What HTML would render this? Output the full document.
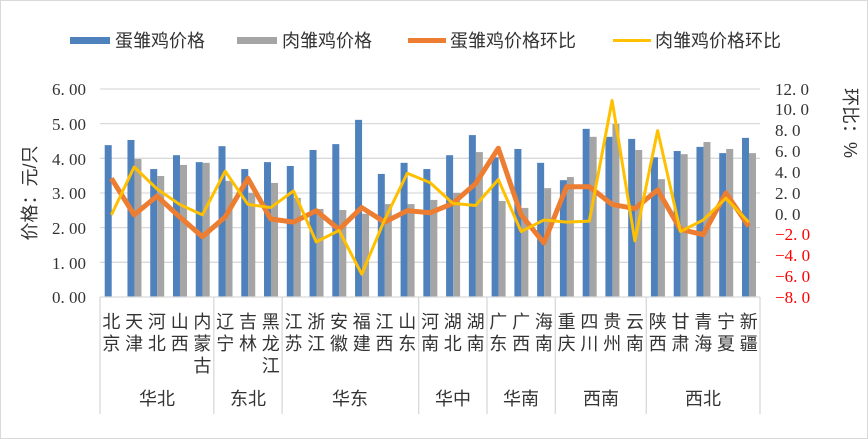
<!DOCTYPE html>
<html><head><meta charset="utf-8"><style>
html,body{margin:0;padding:0;background:#fff;}
svg{display:block;font-family:"Liberation Serif","Noto Serif CJK SC",serif;}
.p{font-size:18px;fill:#333;text-anchor:middle;font-family:"Liberation Sans","Noto Sans CJK SC",sans-serif;}
.g{font-size:18px;fill:#333;text-anchor:middle;font-family:"Liberation Sans","Noto Sans CJK SC",sans-serif;}
.l{font-size:18px;fill:#333;font-family:"Liberation Sans","Noto Sans CJK SC",sans-serif;}
.yl{font-size:17px;fill:#333;text-anchor:end;}
.yr{font-size:17px;fill:#333;}
.neg{fill:#ff0000;}
</style></head><body>
<svg id="s" width="868" height="439" viewBox="0 0 868 439" xmlns="http://www.w3.org/2000/svg">
<rect x="0.5" y="0.5" width="867" height="438" fill="#fff" stroke="#d9d9d9"/>
<g id="grid" stroke="#d9d9d9" stroke-width="1.3"></g>
<g id="bars"></g>
<g id="lines" fill="none" stroke-linejoin="round"></g>
<g stroke="#d9d9d9" stroke-width="1.3">
<line x1="100" y1="297" x2="760" y2="297"/>
<line x1="100" y1="297" x2="100" y2="414"/>
<line x1="213.8" y1="297" x2="213.8" y2="414"/>
<line x1="282.1" y1="297" x2="282.1" y2="414"/>
<line x1="418.7" y1="297" x2="418.7" y2="414"/>
<line x1="487" y1="297" x2="487" y2="414"/>
<line x1="555.3" y1="297" x2="555.3" y2="414"/>
<line x1="646.3" y1="297" x2="646.3" y2="414"/>
<line x1="760" y1="297" x2="760" y2="414"/>
</g>
<text class="yl" x="86" y="95">6. 00</text>
<text class="yl" x="86" y="130">5. 00</text>
<text class="yl" x="86" y="165">4. 00</text>
<text class="yl" x="86" y="199">3. 00</text>
<text class="yl" x="86" y="234">2. 00</text>
<text class="yl" x="86" y="269">1. 00</text>
<text class="yl" x="86" y="303">0. 00</text>
<text class="yr" x="775" y="95">12. 0</text>
<text class="yr" x="775" y="115">10. 0</text>
<text class="yr" x="775" y="136">8. 0</text>
<text class="yr" x="775" y="157">6. 0</text>
<text class="yr" x="775" y="178">4. 0</text>
<text class="yr" x="775" y="199">2. 0</text>
<text class="yr" x="775" y="220">0. 0</text>
<text class="yr neg" x="775" y="240">−2. 0</text>
<text class="yr neg" x="775" y="261">−4. 0</text>
<text class="yr neg" x="775" y="282">−6. 0</text>
<text class="yr neg" x="775" y="303">−8. 0</text>
<text class="l" transform="translate(36,193) rotate(-90)" text-anchor="middle">价格：元/只</text>
<text class="l" transform="translate(844,123) rotate(90)" text-anchor="middle">环比：%</text>
<rect x="70" y="37" width="40" height="7" fill="#4f81bd"/>
<text class="l" x="115" y="47">蛋雏鸡价格</text>
<rect x="237" y="37" width="40" height="7" fill="#a5a5a5"/>
<text class="l" x="282" y="47">肉雏鸡价格</text>
<line x1="408" y1="40.5" x2="446" y2="40.5" stroke="#ed7d31" stroke-width="5"/>
<text class="l" x="450" y="47">蛋雏鸡价格环比</text>
<line x1="613" y1="40.5" x2="651" y2="40.5" stroke="#ffc000" stroke-width="3"/>
<text class="l" x="655" y="47">肉雏鸡价格环比</text>
<g class="p">
<text x="111.4" y="328">北<tspan x="111.4" dy="22">京</tspan></text>
<text x="134.1" y="328">天<tspan x="134.1" dy="22">津</tspan></text>
<text x="156.9" y="328">河<tspan x="156.9" dy="22">北</tspan></text>
<text x="179.7" y="328">山<tspan x="179.7" dy="22">西</tspan></text>
<text x="202.4" y="328">内<tspan x="202.4" dy="22">蒙</tspan><tspan x="202.4" dy="22">古</tspan></text>
<text x="225.2" y="328">辽<tspan x="225.2" dy="22">宁</tspan></text>
<text x="248" y="328">吉<tspan x="248" dy="22">林</tspan></text>
<text x="270.7" y="328">黑<tspan x="270.7" dy="22">龙</tspan><tspan x="270.7" dy="22">江</tspan></text>
<text x="293.5" y="328">江<tspan x="293.5" dy="22">苏</tspan></text>
<text x="316.2" y="328">浙<tspan x="316.2" dy="22">江</tspan></text>
<text x="339" y="328">安<tspan x="339" dy="22">徽</tspan></text>
<text x="361.8" y="328">福<tspan x="361.8" dy="22">建</tspan></text>
<text x="384.5" y="328">江<tspan x="384.5" dy="22">西</tspan></text>
<text x="407.3" y="328">山<tspan x="407.3" dy="22">东</tspan></text>
<text x="430.1" y="328">河<tspan x="430.1" dy="22">南</tspan></text>
<text x="452.8" y="328">湖<tspan x="452.8" dy="22">北</tspan></text>
<text x="475.6" y="328">湖<tspan x="475.6" dy="22">南</tspan></text>
<text x="498.3" y="328">广<tspan x="498.3" dy="22">东</tspan></text>
<text x="521.1" y="328">广<tspan x="521.1" dy="22">西</tspan></text>
<text x="543.9" y="328">海<tspan x="543.9" dy="22">南</tspan></text>
<text x="566.6" y="328">重<tspan x="566.6" dy="22">庆</tspan></text>
<text x="589.4" y="328">四<tspan x="589.4" dy="22">川</tspan></text>
<text x="612.2" y="328">贵<tspan x="612.2" dy="22">州</tspan></text>
<text x="634.9" y="328">云<tspan x="634.9" dy="22">南</tspan></text>
<text x="657.7" y="328">陕<tspan x="657.7" dy="22">西</tspan></text>
<text x="680.5" y="328">甘<tspan x="680.5" dy="22">肃</tspan></text>
<text x="703.2" y="328">青<tspan x="703.2" dy="22">海</tspan></text>
<text x="726" y="328">宁<tspan x="726" dy="22">夏</tspan></text>
<text x="748.8" y="328">新<tspan x="748.8" dy="22">疆</tspan></text>
</g>
<g class="g">
<text x="157" y="405">华北</text>
<text x="248" y="405">东北</text>
<text x="350" y="405">华东</text>
<text x="453" y="405">华中</text>
<text x="521" y="405">华南</text>
<text x="601" y="405">西南</text>
<text x="703" y="405">西北</text>
</g>
</svg>
<script>
var NS="http://www.w3.org/2000/svg";
function el(p,t,a){var e=document.createElementNS(NS,t);for(var k in a)e.setAttribute(k,a[k]);p.appendChild(e);return e;}
var grid=document.getElementById('grid');
for(var i=1;i<=6;i++){var y=297-34.67*i;el(grid,'line',{x1:100,x2:760,y1:y,y2:y});}
var blue=[4.38,4.53,3.69,4.09,3.89,4.35,3.69,3.89,3.78,4.24,4.41,5.11,3.55,3.87,3.69,4.09,4.67,4.03,4.27,3.87,3.37,4.85,4.62,4.56,4.03,4.21,4.33,4.15,4.59];
var gray=[0,3.98,3.49,3.81,3.87,3.35,3.0,3.29,2.86,2.54,2.51,2.4,2.68,2.68,2.8,3.0,4.18,2.77,2.57,3.14,3.46,4.62,4.99,4.24,3.40,4.12,4.47,4.27,4.15];
var org=[3.4,-0.1,1.7,-0.3,-2.2,-0.3,3.4,-0.5,-0.8,0.3,-1.5,0.6,-0.8,0.3,0.1,1.0,2.9,6.3,-0.1,-2.8,2.6,2.6,0.9,0.5,2.3,-1.5,-2.0,2.0,-1.2];
var yel=[-0.1,4.5,2.4,0.9,-0.1,4.1,0.9,0.6,2.2,-2.7,-1.6,-5.8,-0.6,3.9,3.0,1.0,0.8,3.3,-1.7,-0.6,-0.8,-0.7,10.9,-2.6,8.0,-1.7,-0.6,1.5,-0.8];
var bars=document.getElementById('bars'),lines=document.getElementById('lines');
var po=[],py=[];
for(var i=0;i<29;i++){var c=111.4+22.76*i;
 var h=blue[i]*34.67;el(bars,'rect',{x:c-6.7,y:297-h,width:7,height:h,fill:'#4f81bd'});
 h=gray[i]*34.67;if(h>0)el(bars,'rect',{x:c+0.3,y:297-h,width:7,height:h,fill:'#a5a5a5'});
 po.push(c+','+(213.8-10.4*org[i]));py.push(c+','+(213.8-10.4*yel[i]));}
el(lines,'polyline',{points:po.join(' '),stroke:'#ed7d31','stroke-width':5});
el(lines,'polyline',{points:py.join(' '),stroke:'#ffc000','stroke-width':3});
</script>
</body></html>
